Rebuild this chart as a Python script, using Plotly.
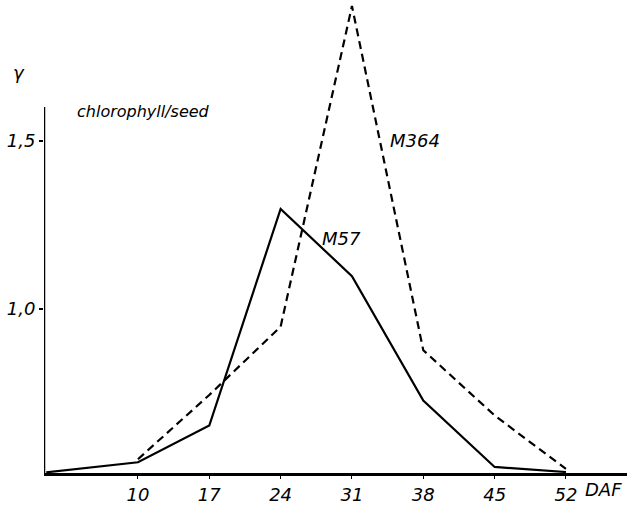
import plotly.graph_objects as go

# Data
days_m57 = [1, 10, 17, 24, 31, 38, 45, 52]
chl_m57 = [0.514, 0.544, 0.653, 1.297, 1.097, 0.727, 0.530, 0.515]
days_m364 = [10, 17, 24, 31, 38, 45, 52]
chl_m364 = [0.553, 0.744, 0.947, 1.900, 0.877, 0.683, 0.524]
x_ticks = [10, 17, 24, 31, 38, 45, 52]
y_ticks = [1.0, 1.5]
y_ticklabels = ["1,0", "1,5"]

X_RANGE = [0.78, 57.99]
Y_RANGE = [0.512, 1.918]
Y_AXIS_TOP = 1.6

FONT = "DejaVu Sans"

fig = go.Figure()
fig.add_trace(go.Scatter(x=days_m57, y=chl_m57, mode="lines",
                         line=dict(color="black", width=2.2), name="M57",
                         showlegend=False))
fig.add_trace(go.Scatter(x=days_m364, y=chl_m364, mode="lines",
                         line=dict(color="black", width=2.2, dash="8px,5px"),
                         name="M364", showlegend=False))

# y axis line (only up to 1.6)
fig.add_shape(type="line", xref="x", yref="y", x0=X_RANGE[0], x1=X_RANGE[0],
              y0=Y_RANGE[0], y1=Y_AXIS_TOP, line=dict(color="black", width=2.5))

italic = dict(family=FONT, color="black", style="italic")

fig.update_layout(
    width=627, height=505,
    margin=dict(l=44, r=0, t=0, b=27),
    paper_bgcolor="white", plot_bgcolor="white",
    xaxis=dict(range=X_RANGE, tickvals=x_ticks, ticktext=[str(v) for v in x_ticks],
               showgrid=False, zeroline=False, showline=True, linecolor="black",
               linewidth=3, ticks="outside", ticklen=3, tickcolor="black",
               tickfont=dict(size=18, **italic)),
    yaxis=dict(range=Y_RANGE, tickvals=y_ticks, ticktext=y_ticklabels,
               showgrid=False, zeroline=False, showline=False,
               ticks="outside", ticklen=4, tickwidth=2, tickcolor="black",
               tickfont=dict(size=18, **italic)),
    annotations=[
        dict(text="chlorophyll/seed", x=(75 - 44) / 583, y=(478 - 113) / 478,
             xref="paper", yref="paper", xanchor="left", yanchor="middle",
             showarrow=False, font=dict(size=16, **italic)),
        dict(text="M364", x=34.5, y=1.50, xref="x", yref="y",
             xanchor="left", yanchor="middle", showarrow=False,
             font=dict(size=18, **italic)),
        dict(text="M57", x=27.9, y=1.209, xref="x", yref="y",
             xanchor="left", yanchor="middle", showarrow=False,
             font=dict(size=18, **italic)),
        dict(text="γ", x=(19 - 44) / 583, y=(478 - 73) / 478,
             xref="paper", yref="paper", xanchor="center", yanchor="middle",
             showarrow=False, font=dict(size=18, **italic)),
        dict(text="DAF", x=(583 - 44) / 583, y=-17 / 478,
             xref="paper", yref="paper", xanchor="left", yanchor="middle",
             showarrow=False, font=dict(size=18, **italic)),
    ],
)

fig.write_html("out.html")
